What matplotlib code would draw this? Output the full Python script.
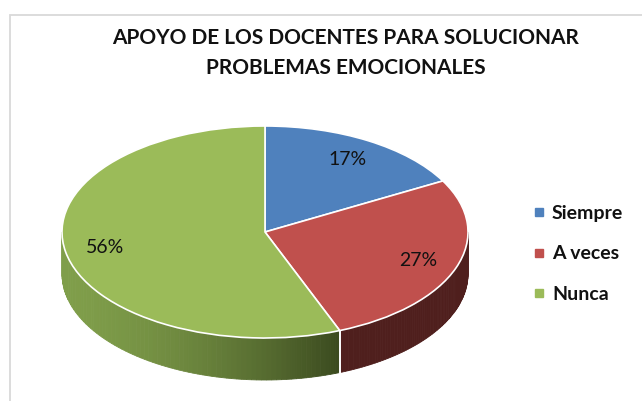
import numpy as np
import matplotlib
matplotlib.use("Agg")
import matplotlib.pyplot as plt
from matplotlib.patches import Polygon, Rectangle
from matplotlib.lines import Line2D

# datos
categorias = ["Siempre", "A veces", "Nunca"]
porcentajes = [17, 27, 56]
colores = ["#4F81BD", "#C0504D", "#9BBB59"]
titulo = "APOYO DE LOS DOCENTES PARA SOLUCIONAR\nPROBLEMAS EMOCIONALES"

W, H = 642, 401
fig = plt.figure(figsize=(W / 100, H / 100), dpi=100)
fig.patch.set_facecolor("white")

# marco gris del grafico (sale por la derecha y abajo)
fig.patches.append(Rectangle((10 / W, -0.1), 1.2, 1.1 - 15 / H, transform=fig.transFigure,
                             fill=False, edgecolor="#D9D9D9", lw=1.3))

ax = fig.add_axes([0, 0, 1, 1])
cx, cy, rx, ry, prof = 265, 232, 203, 106, 42
d = prof / ry

wedges, textos, autotextos = ax.pie(
    porcentajes, colors=colores, startangle=90, counterclock=False,
    autopct=lambda p: "%.0f%%" % p, pctdistance=0.8,
    wedgeprops=dict(edgecolor="white", linewidth=1.2),
    textprops=dict(fontsize=14, color="#111111", family="Lato"))
for w in wedges:
    w.set_zorder(3)
for t in autotextos:
    t.set_zorder(4)

ax.set_aspect("auto")
ax.set_xlim(-cx / rx, (W - cx) / rx)
ax.set_ylim(-(H - cy) / ry, cy / ry)
ax.axis("off")

# lados de la torta 3D
def color_lado(i, x):
    if i == 1:
        return (0.31, 0.12, 0.115)
    # degradado del verde: claro a la izquierda, oscuro a la derecha
    f = np.clip((x + 1) / 1.37, 0, 1) ** 1.6
    c1 = np.array([0.50, 0.62, 0.29])
    c2 = np.array([0.23, 0.29, 0.12])
    return tuple(c1 + (c2 - c1) * f)

fronteras = 90 - 3.6 * np.concatenate([[0], np.cumsum(porcentajes)])
for i in range(len(porcentajes)):
    hi, lo = fronteras[i], fronteras[i + 1]
    for k in (-360, 0, 360):
        a, b = max(lo + k, -180), min(hi + k, 0)
        if b <= a:
            continue
        ts = np.linspace(a, b, 80)
        for t0, t1 in zip(ts[:-1], ts[1:]):
            tt = np.radians(np.linspace(t0, t1, 3))
            xs, ys = np.cos(tt), np.sin(tt)
            pts = np.concatenate([np.c_[xs, ys], np.c_[xs[::-1], ys[::-1] - d]])
            col = color_lado(i, xs.mean())
            ax.add_patch(Polygon(pts, closed=True, facecolor=col, edgecolor=col,
                                 lw=0.6, zorder=1))
        # separacion blanca entre lados
        for t in (a, b):
            if -180 < t < 0:
                r = np.radians(t)
                ax.plot([np.cos(r)] * 2, [np.sin(r), np.sin(r) - d], color="white",
                        lw=1.2, zorder=2)

fig.text(346 / W, 1 - 53 / H, titulo, ha="center", va="center", fontsize=15,
         fontweight="bold", family="Lato", linespacing=1.6, color="#111111")

manijas = [Line2D([], [], marker="s", ls="", color=c, markersize=6) for c in colores]
fig.legend(manijas, categorias, loc="center left", bbox_to_anchor=(516 / W, 1 - 254 / H),
           frameon=False, handlelength=0.6, handletextpad=0.35, labelspacing=1.2,
           prop=dict(size=14, weight="bold", family="Lato"),
           labelcolor="#111111")

fig.savefig("out.png", dpi=100)
